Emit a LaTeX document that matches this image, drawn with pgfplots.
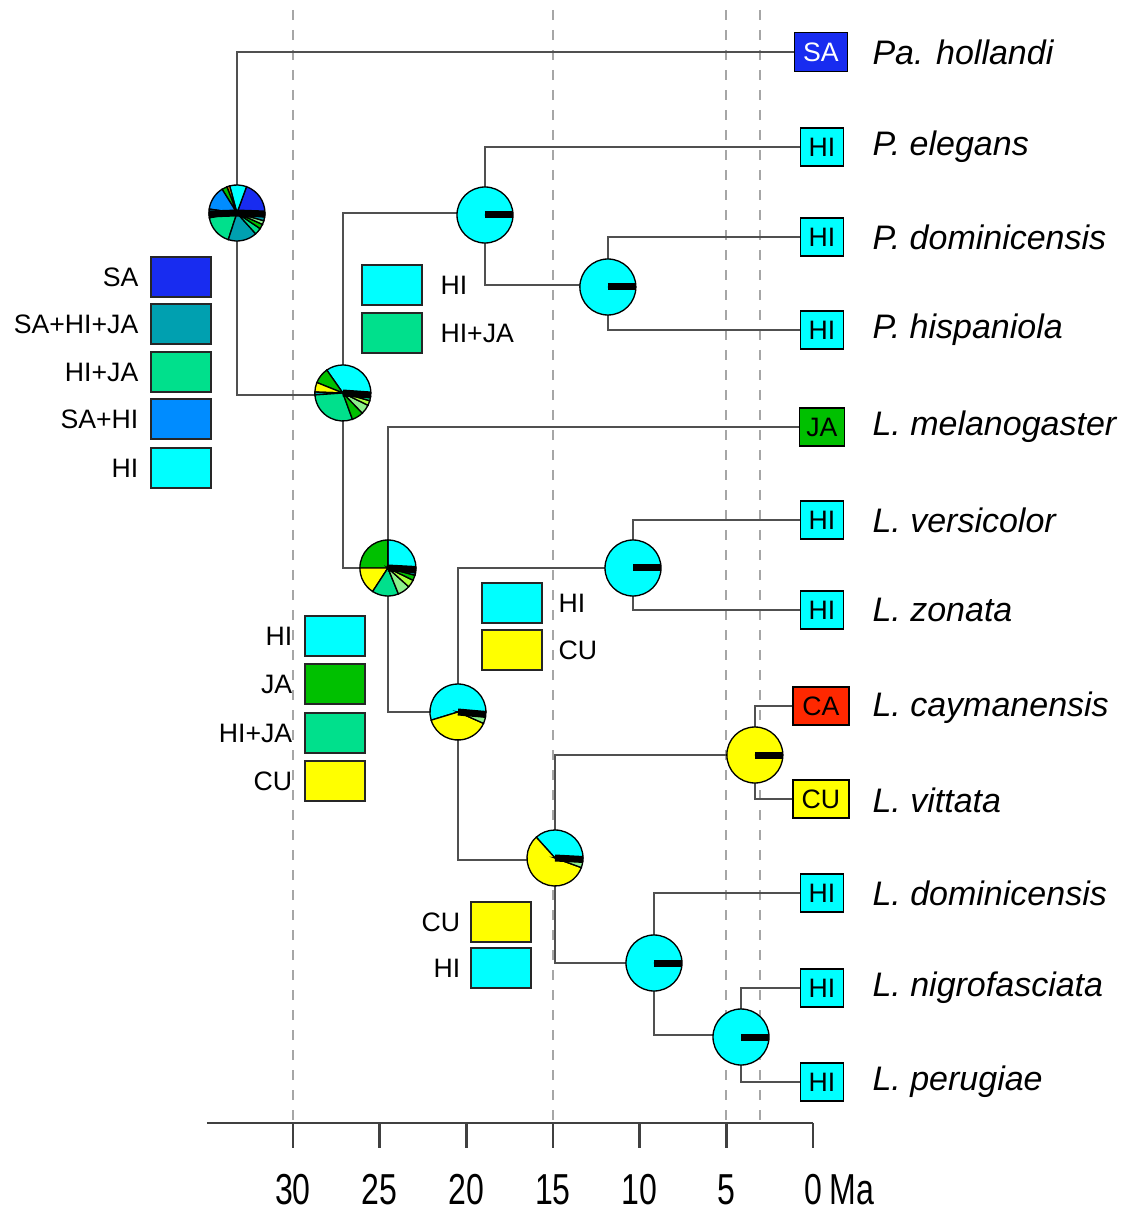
\documentclass[border=0pt]{standalone}
\usepackage{fontspec}
\setmainfont{Liberation Sans}
\usepackage{pgfplots}
\pgfplotsset{compat=1.18}
\definecolor{cSA}{RGB}{24,44,240}
\definecolor{cSAHIJA}{RGB}{0,160,176}
\definecolor{cHIJA}{RGB}{0,224,140}
\definecolor{cSAHI}{RGB}{0,140,255}
\definecolor{cHI}{RGB}{0,255,255}
\definecolor{cJA}{RGB}{0,192,0}
\definecolor{cCU}{RGB}{255,255,0}
\definecolor{cCA}{RGB}{255,40,0}
\definecolor{cLG}{RGB}{140,240,140}
\definecolor{cYG}{RGB}{170,255,60}
\definecolor{cOR}{RGB}{200,120,0}
\definecolor{branch}{RGB}{80,80,80}
\def\pr{8.4pt}
\newcommand\ps[3]{\pgfpathmoveto{\pgfpointorigin}\pgfpathlineto{\pgfpointpolar{#2}{\pr}}\pgfpatharc{#2}{#3}{\pr}\pgfpathclose\pgfsetfillcolor{#1}\pgfusepath{fill,stroke}}
\newcommand\pbar[1]{\pgfsetlinewidth{2.1pt}\pgfpathmoveto{\pgfpointorigin}\pgfpathlineto{\pgfpointpolar{#1}{\pr}}\pgfusepath{stroke}\pgfsetlinewidth{0.4pt}}
\newcommand\pinit{\pgfsetstrokecolor{black}\pgfsetlinewidth{0.4pt}\pgfsetdash{}{0pt}}
\pgfdeclareplotmark{pieroot}{\pinit
 \ps{cSA}{0}{70}\ps{cHI}{70}{105}\ps{cOR}{105}{111}\ps{cJA}{111}{122}
 \ps{cSAHI}{122}{172}\ps{cSAHIJA}{172}{180}\ps{cLG}{180}{184}\ps{cSAHIJA}{184}{190}
 \ps{cHIJA}{190}{252}\ps{cSAHIJA}{252}{312}\ps{cHIJA}{312}{326}\ps{cJA}{326}{336}
 \ps{cLG}{336}{344}\ps{cSAHIJA}{344}{352}\ps{cHIJA}{352}{356}\ps{cJA}{356}{360}\pbar{358}\pbar{182}}
\pgfdeclareplotmark{pietwo}{\pinit
 \ps{cHI}{0}{125}\ps{cJA}{125}{158}\ps{cCU}{158}{178}\ps{cSAHIJA}{178}{184}
 \ps{cHIJA}{184}{290}\ps{cJA}{290}{314}\ps{cLG}{314}{334}\ps{cYG}{334}{344}
 \ps{cHIJA}{344}{352}\ps{cJA}{352}{360}\pbar{356}}
\pgfdeclareplotmark{piefour}{\pinit
 \ps{cHI}{0}{90}\ps{cJA}{90}{180}\ps{cCU}{180}{237}\ps{cHIJA}{237}{292}
 \ps{cLG}{292}{318}\ps{cYG}{318}{334}\ps{cJA}{334}{345}\ps{cSAHIJA}{345}{350}
 \ps{cJA}{350}{355}\ps{cHIJA}{355}{360}\pbar{357}}
\pgfdeclareplotmark{piesix}{\pinit
 \ps{cHI}{0}{197}\ps{cCU}{197}{336}\ps{cLG}{336}{350}\ps{cJA}{350}{360}\pbar{355}}
\pgfdeclareplotmark{pieeight}{\pinit
 \ps{cHI}{0}{132}\ps{cCU}{132}{340}\ps{cLG}{340}{353}\ps{cJA}{353}{360}\pbar{357}}
\pgfdeclareplotmark{piecyan}{\pinit\ps{cHI}{0}{360}\pbar{0}}
\pgfdeclareplotmark{pieyellow}{\pinit\ps{cCU}{0}{360}\pbar{0}}
\tikzset{tipbox/.style={draw=black, line width=0.5pt, inner sep=0pt, minimum height=11.4pt, minimum width=12.9pt, anchor=center, font=\fontsize{8}{9}\selectfont},
 legbox/.style={draw=black!85, line width=0.6pt, minimum width=18pt, minimum height=12pt, inner sep=0pt},
 leglab/.style={font=\fontsize{8}{9}\selectfont, inner sep=0pt},
 tiplab/.style={anchor=west, inner sep=0pt, font=\fontsize{10.2}{12}\selectfont\itshape},
 ticklab/.style={xscale=0.74, inner sep=0pt, font=\fontsize{13}{14}\selectfont}}
\pgfplotsset{br/.style={branch, solid, line width=0.7pt, mark=none},
 tl/.style={gray!70, dashed, line width=0.5pt, mark=none},
 ax/.style={black!75, solid, line width=0.8pt, mark=none}}
\begin{document}
\begin{tikzpicture}
\begin{axis}[scale only axis, width=339.3pt, height=363.6pt,
 xmin=-18.35, xmax=46.90, ymin=0, ymax=1212, x dir=reverse, y dir=reverse,
 axis lines=none, clip=false]
% dashed time lines
\addplot[tl] coordinates {(30,10) (30,1148)};
\addplot[tl] coordinates {(15,10) (15,1148)};
\addplot[tl] coordinates {(5,10) (5,1148)};
\addplot[tl] coordinates {(3.06,10) (3.06,1123)};
% time axis
\addplot[ax] coordinates {(34.96,1123) (0,1123)};
\addplot[ax] coordinates {(30,1123) (30,1148)};
\addplot[ax] coordinates {(25,1123) (25,1148)};
\addplot[ax] coordinates {(20,1123) (20,1148)};
\addplot[ax] coordinates {(15,1123) (15,1148)};
\addplot[ax] coordinates {(10,1123) (10,1148)};
\addplot[ax] coordinates {(5,1123) (5,1148)};
\addplot[ax] coordinates {(0,1123) (0,1148)};
% tree branches
\addplot[br] coordinates {(0,52) (33.23,52) (33.23,395) (27.12,395)};
\addplot[br] coordinates {(18.92,213) (27.12,213) (27.12,568) (24.52,568)};
\addplot[br] coordinates {(0,147) (18.92,147) (18.92,285) (11.83,285)};
\addplot[br] coordinates {(0,237) (11.83,237) (11.83,330) (0,330)};
\addplot[br] coordinates {(0,427) (24.52,427) (24.52,712) (20.48,712)};
\addplot[br] coordinates {(10.38,568) (20.48,568) (20.48,860) (14.88,860)};
\addplot[br] coordinates {(0,520) (10.38,520) (10.38,610) (0,610)};
\addplot[br] coordinates {(3.35,755) (14.88,755) (14.88,963) (9.17,963)};
\addplot[br] coordinates {(0,706) (3.35,706) (3.35,799) (0,799)};
\addplot[br] coordinates {(0,893) (9.17,893) (9.17,1035) (4.15,1035)};
\addplot[br] coordinates {(0,988) (4.15,988) (4.15,1082) (0,1082)};
% ancestral state pies
\addplot[only marks, mark=pieroot] coordinates {(33.23,213)};
\addplot[only marks, mark=pietwo] coordinates {(27.12,393)};
\addplot[only marks, mark=piefour] coordinates {(24.52,568)};
\addplot[only marks, mark=piesix] coordinates {(20.48,712)};
\addplot[only marks, mark=pieeight] coordinates {(14.88,858)};
\addplot[only marks, mark=piecyan] coordinates {(18.92,215) (11.83,287) (10.38,568) (9.17,963) (4.15,1037)};
\addplot[only marks, mark=pieyellow] coordinates {(3.35,755)};
% tip states
\addplot[draw=none, mark=none, nodes near coords={HI}, nodes near coords style={tipbox, fill=cHI}]
 coordinates {(-0.52,147) (-0.52,237) (-0.52,330) (-0.52,520) (-0.52,610) (-0.52,893) (-0.52,988) (-0.52,1082)};
\addplot[draw=none, mark=none, nodes near coords={SA}, nodes near coords style={tipbox, fill=cSA, text=white, minimum width=15.9pt, minimum height=11.7pt}]
 coordinates {(-0.46,52)};
\addplot[draw=none, mark=none, nodes near coords={JA}, nodes near coords style={tipbox, fill=cJA, minimum width=13.5pt}]
 coordinates {(-0.52,427)};
\addplot[draw=none, mark=none, nodes near coords={CA}, nodes near coords style={tipbox, fill=cCA, minimum width=16.8pt}]
 coordinates {(-0.46,706)};
\addplot[draw=none, mark=none, nodes near coords={CU}, nodes near coords style={tipbox, fill=cCU, minimum width=16.8pt}]
 coordinates {(-0.46,799)};
% tip labels
\node[tiplab] at (axis cs:-3.40,52) {Pa. hollandi};
\node[tiplab] at (axis cs:-3.40,147) {P. elegans};
\node[tiplab] at (axis cs:-3.40,237) {P. dominicensis};
\node[tiplab] at (axis cs:-3.40,330) {P. hispaniola};
\node[tiplab] at (axis cs:-3.40,427) {L. melanogaster};
\node[tiplab] at (axis cs:-3.40,520) {L. versicolor};
\node[tiplab] at (axis cs:-3.40,610) {L. zonata};
\node[tiplab] at (axis cs:-3.40,708) {L. caymanensis};
\node[tiplab] at (axis cs:-3.40,800) {L. vittata};
\node[tiplab] at (axis cs:-3.40,893) {L. dominicensis};
\node[tiplab] at (axis cs:-3.40,988) {L. nigrofasciata};
\node[tiplab] at (axis cs:-3.40,1082) {L. perugiae};
% pie legends: root
\node[legbox, fill=cSA] at (axis cs:36.43,277) {};
\node[legbox, fill=cSAHIJA] at (axis cs:36.43,324) {};
\node[legbox, fill=cHIJA] at (axis cs:36.43,372) {};
\node[legbox, fill=cSAHI] at (axis cs:36.43,419) {};
\node[legbox, fill=cHI] at (axis cs:36.43,468) {};
\node[leglab, anchor=east] at (axis cs:38.88,277) {SA};
\node[leglab, anchor=east] at (axis cs:38.88,324) {SA+HI+JA};
\node[leglab, anchor=east] at (axis cs:38.88,372) {HI+JA};
\node[leglab, anchor=east] at (axis cs:38.88,419) {SA+HI};
\node[leglab, anchor=east] at (axis cs:38.88,468) {HI};
% node 3 legend
\node[legbox, fill=cHI] at (axis cs:24.29,285) {};
\node[legbox, fill=cHIJA] at (axis cs:24.29,333) {};
\node[leglab, anchor=west] at (axis cs:21.52,285) {HI};
\node[leglab, anchor=west] at (axis cs:21.52,333) {HI+JA};
% node 4 legend
\node[legbox, fill=cHI] at (axis cs:27.58,636) {};
\node[legbox, fill=cJA] at (axis cs:27.58,684) {};
\node[legbox, fill=cHIJA] at (axis cs:27.58,733) {};
\node[legbox, fill=cCU] at (axis cs:27.58,781) {};
\node[leglab, anchor=east] at (axis cs:30.0,636) {HI};
\node[leglab, anchor=east] at (axis cs:30.0,684) {JA};
\node[leglab, anchor=east] at (axis cs:30.0,733) {HI+JA};
\node[leglab, anchor=east] at (axis cs:30.0,781) {CU};
% node 6 legend
\node[legbox, fill=cHI] at (axis cs:17.39,603) {};
\node[legbox, fill=cCU] at (axis cs:17.39,650) {};
\node[leglab, anchor=west] at (axis cs:14.71,603) {HI};
\node[leglab, anchor=west] at (axis cs:14.71,650) {CU};
% node 8 legend
\node[legbox, fill=cCU] at (axis cs:17.97,922) {};
\node[legbox, fill=cHI] at (axis cs:17.97,968) {};
\node[leglab, anchor=east] at (axis cs:20.31,922) {CU};
\node[leglab, anchor=east] at (axis cs:20.31,968) {HI};
% time axis labels
\node[ticklab] at (axis cs:30,1190) {30};
\node[ticklab] at (axis cs:25,1190) {25};
\node[ticklab] at (axis cs:20,1190) {20};
\node[ticklab] at (axis cs:15,1190) {15};
\node[ticklab] at (axis cs:10,1190) {10};
\node[ticklab] at (axis cs:5,1190) {5};
\node[ticklab] at (axis cs:0,1190) {0};
\node[ticklab, anchor=west] at (axis cs:-0.95,1190) {Ma};
\end{axis}
\pgfresetboundingbox
\path (current axis.south west) rectangle (current axis.north east);
\end{tikzpicture}
\end{document}
